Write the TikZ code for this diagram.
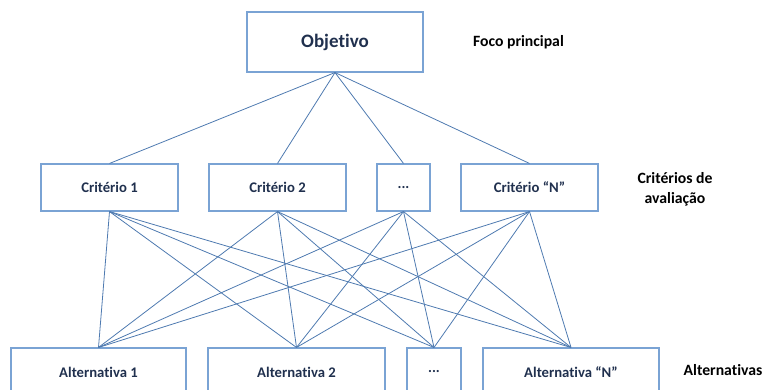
\documentclass[tikz,border=0pt]{standalone}
\usepackage{fontspec}
\setmainfont[Ligatures=NoCommon]{Carlito}
\definecolor{boxblue}{RGB}{122,163,212}
\definecolor{linkblue}{RGB}{78,122,176}
\definecolor{navy}{RGB}{32,48,78}
\begin{document}
\begin{tikzpicture}[x=1pt,y=-1pt,
  box/.style={draw=boxblue, line width=1.1pt, inner sep=0pt, text=navy,
    font=\bfseries\fontsize{14.7}{17}\selectfont},
  crit/.style={box, minimum height=47pt},
  alt/.style={box, minimum height=48pt},
  link/.style={draw=linkblue, line width=0.8pt},
  side/.style={font=\bfseries\fontsize{15.7}{20}\selectfont, align=center, text=black}]
\useasboundingbox (0,0) rectangle (767,389);
\clip (0,0) rectangle (767,389);

% top level
\node[box, minimum width=176pt, minimum height=60pt,
      font=\bfseries\fontsize{19}{22}\selectfont] (obj) at (335,42) {Objetivo};
\node[side] (lfoco) at (518.5,42) {Foco principal};

% criteria
\node[crit, minimum width=137pt] (c1) at (109.5,187.5) {Critério 1};
\node[crit, minimum width=137pt] (c2) at (277.5,187.5) {Critério 2};
\node[crit, minimum width=53pt]  (c3) at (403.5,187.5) {...};
\node[crit, minimum width=137pt] (c4) at (529.5,187.5) {Critério “N”};
\node[side] (lcrit) at (675,189) {Critérios de\\avaliação};

% alternatives
\node[alt, minimum width=175pt] (a1) at (98.5,372) {Alternativa 1};
\node[alt, minimum width=177pt] (a2) at (296.5,372) {Alternativa 2};
\node[alt, minimum width=54pt]  (a3) at (434,372) {...};
\node[alt, minimum width=176pt] (a4) at (571,372) {Alternativa “N”};
\node[side] (lalt) at (723,370) {Alternativas};

% objective to criteria
\foreach \c in {c1,c2,c3,c4}
  \draw[link] (obj.south) -- (\c.north);

% every criterion to every alternative
\foreach \c in {c1,c2,c3,c4}
  \foreach \a in {a1,a2,a3,a4}
    \draw[link] (\c.south) -- (\a.north);
\end{tikzpicture}
\end{document}
